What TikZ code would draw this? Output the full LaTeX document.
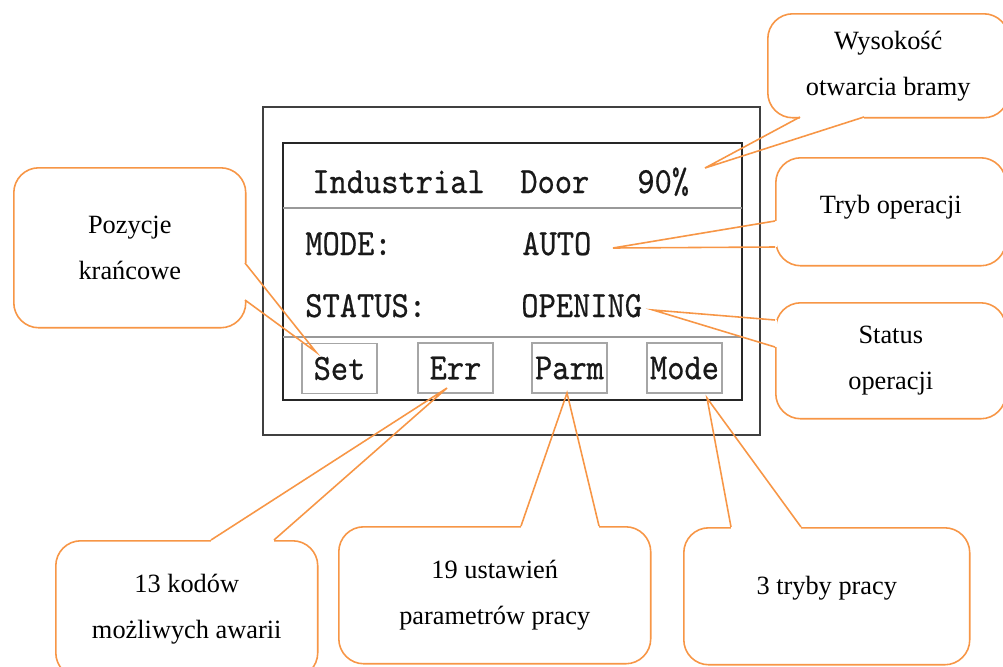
\documentclass[tikz,border=0pt]{standalone}
\usepackage{fontspec}
\setmainfont{Liberation Serif}
\newfontfamily\lcdfont[FakeBold=0.6]{lmmono10-regular.otf}
\usepackage{graphicx}
\usepackage{tikz}

\definecolor{calloutorange}{HTML}{F79646}
\newcommand{\lcd}[1]{\scalebox{0.89}[1]{\fontsize{21}{21}\selectfont\lcdfont #1}}

\tikzset{
  bubble/.style={draw=calloutorange, line width=0.9pt, rounded corners=0.5cm, fill=white,
    align=center, inner sep=0pt, anchor=north west, font=\fontsize{15}{26.2}\selectfont},
  pointer/.style={draw=calloutorange, line width=0.9pt},
  gap/.style={draw=white, line width=2.2pt},
  lcdtext/.style={anchor=base west, inner sep=0pt, text=black!90},
  lcdbtn/.style={draw=gray!70, line width=0.6pt, minimum width=1.5cm, minimum height=1.0cm, inner sep=0pt, text=black!90}
}

\begin{document}
\begin{tikzpicture}[x=0.02cm, y=-0.02cm]
\clip (0,0) rectangle (1003,666);

\draw[gray!50!black, line width=1.3pt] (263,107) rectangle (760,435);
\draw[black!85, line width=1.1pt] (283,143) rectangle (742,400);
\draw[gray!80, line width=0.7pt] (283,208) -- (742,208);
\draw[gray!80, line width=0.7pt] (283,337) -- (742,337);

\node[lcdtext] (ind) at (312,193) {\lcd{Industrial}};
\node[lcdtext] (door) at (520,193) {\lcd{Door}};
\node[lcdtext] (pct) at (637,193) {\lcd{90\%}};
\node[lcdtext] (modelbl) at (305,255) {\lcd{MODE:}};
\node[lcdtext] (auto) at (522,255) {\lcd{AUTO}};
\node[lcdtext] (statlbl) at (305,317) {\lcd{STATUS:}};
\node[lcdtext] (opening) at (521,317) {\lcd{OPENING}};

\node[lcdbtn] (setbtn) at (339.5,368.5) {\lcd{Set}};
\node[lcdbtn] (errbtn) at (455.5,368) {\lcd{Err}};
\node[lcdbtn] (parmbtn) at (569.5,368) {\lcd{Parm}};
\node[lcdbtn] (modebtn) at (684.5,368) {\lcd{Mode}};

\node[bubble, minimum width=4.82cm, minimum height=2.08cm] (wys) at (767,13) {Wysokość\\otwarcia bramy};
\node[bubble, minimum width=4.6cm, minimum height=2.16cm, text depth=0.3cm] (tryb) at (775,157) {Tryb operacji};
\node[bubble, minimum width=4.6cm, minimum height=2.32cm] (status) at (775,302) {Status\\operacji};
\node[bubble, minimum width=4.64cm, minimum height=3.2cm] (poz) at (13,167) {Pozycje\\krańcowe};
\node[bubble, minimum width=5.24cm, minimum height=2.74cm] (kody) at (55,540) {13 kodów\\możliwych awarii};
\node[bubble, minimum width=6.24cm, minimum height=2.74cm] (ustaw) at (338,526) {19 ustawień\\parametrów pracy};
\node[bubble, minimum width=5.72cm, minimum height=2.74cm, text depth=0.45cm] (tryby) at (683,527) {3 tryby pracy};

\coordinate (wysA) at (800,117);
\coordinate (wysB) at (864,117);
\coordinate (wysT) at (705,168);
\coordinate (trybA) at (775,221);
\coordinate (trybB) at (775,247);
\coordinate (trybT) at (613,248);
\coordinate (statA) at (775,320);
\coordinate (statB) at (775,347);
\coordinate (statT) at (653,310);
\coordinate (pozA) at (245,263);
\coordinate (pozB) at (245,300);
\coordinate (pozT) at (316,352);
\coordinate (kodA) at (211,540);
\coordinate (kodB) at (274,540);
\coordinate (kodT) at (447,388);
\coordinate (ustA) at (521,526);
\coordinate (ustB) at (599,526);
\coordinate (ustT) at (567,393);
\coordinate (trA) at (731,527);
\coordinate (trB) at (801,527);
\coordinate (trT) at (707,398);

\draw[gap] (wysA) -- (wysB);
\draw[pointer] (wysA) -- (wysT) -- (wysB);
\draw[gap] (trybA) -- (trybB);
\draw[pointer] (trybA) -- (trybT) -- (trybB);
\draw[gap] (statA) -- (statB);
\draw[pointer] (statA) -- (statT) -- (statB);
\draw[gap] (pozA) -- (pozB);
\draw[pointer] (pozA) -- (pozT) -- (pozB);
\draw[gap] (kodA) -- (kodB);
\draw[pointer] (kodA) -- (kodT) -- (kodB);
\draw[gap] (ustA) -- (ustB);
\draw[pointer] (ustA) -- (ustT) -- (ustB);
\draw[gap] (trA) -- (trB);
\draw[pointer] (trA) -- (trT) -- (trB);
\end{tikzpicture}
\end{document}
